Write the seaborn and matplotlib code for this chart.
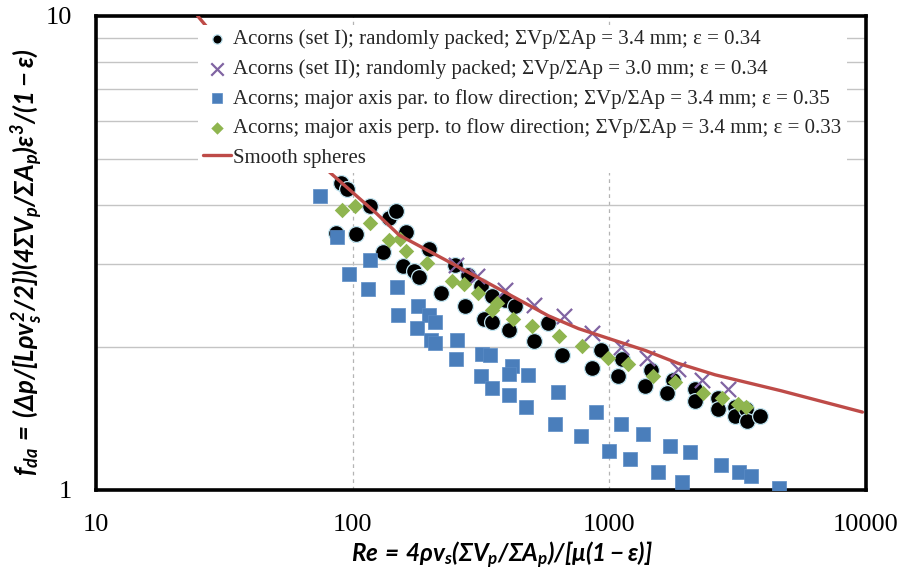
import matplotlib
matplotlib.use("Agg")
import matplotlib.pyplot as plt
import seaborn as sns
from matplotlib.ticker import FixedLocator, FixedFormatter, NullLocator, NullFormatter
from matplotlib.collections import PathCollection

# Acorns (set I); randomly packed
re_set1 = [90.0, 94.8, 116.7, 86.1, 103.4, 138.6, 147.9, 161.8, 131.8, 198.2, 157.0,
           173.3, 181.3, 221.8, 250.0, 281.8, 317.6, 273.5, 324.5, 347.6, 349.2, 393.6,
           430.4, 405.5, 507.0, 575.8, 652.6, 858.7, 928.3, 1117, 1077, 1459, 1383, 1775,
           1671, 2163, 2153, 2649, 2649, 3077, 3077, 3413, 3435, 3847]
f_set1 = [4.44, 4.31, 3.97, 3.48, 3.46, 3.74, 3.88, 3.51, 3.18, 3.22, 2.97,
          2.90, 2.81, 2.61, 2.98, 2.84, 2.69, 2.44, 2.30, 2.26, 2.56, 2.52,
          2.44, 2.18, 2.06, 2.25, 1.93, 1.81, 1.97, 1.89, 1.74, 1.79, 1.66, 1.71,
          1.60, 1.63, 1.54, 1.56, 1.48, 1.50, 1.43, 1.48, 1.40, 1.43]

# Acorns (set II); randomly packed
re_set2 = [251.8, 305.5, 390.8, 507.0, 668.6, 853.0, 1109, 1400, 1854, 2296, 2911]
f_set2 = [2.98, 2.83, 2.64, 2.46, 2.33, 2.14, 2.00, 1.90, 1.80, 1.71, 1.63]

# Acorns; major axis parallel to flow direction
re_par = [74.6, 86.5, 96.4, 116.9, 115.1, 149.2, 150.6, 180.4, 198.2, 209.0, 178.6,
          201.4, 209.0, 255.4, 253.6, 319.4, 344.1, 317.6, 349.2, 417.6, 407.8, 480.9,
          405.5, 471.4, 629.5, 615.2, 774.4, 883.4, 1109, 997, 1202, 1355, 1549, 1722,
          2056, 1927, 2729, 3189, 3550, 4564]
f_par = [4.18, 3.41, 2.86, 3.05, 2.66, 2.68, 2.34, 2.44, 2.34, 2.26, 2.20,
         2.07, 2.04, 2.07, 1.89, 1.94, 1.93, 1.74, 1.64, 1.83, 1.76, 1.75,
         1.59, 1.50, 1.61, 1.38, 1.30, 1.46, 1.38, 1.21, 1.16, 1.31, 1.09, 1.24,
         1.20, 1.04, 1.13, 1.09, 1.07, 1.01]

# Acorns; major axis perpendicular to flow direction
re_perp = [91.2, 102.3, 116.7, 138.6, 152.4, 160.9, 194.9, 244.2, 271.0, 308.3, 348.5,
           364.1, 419.8, 499.0, 633.9, 783.4, 990.6, 1178, 1483, 1799, 2317, 2748,
           3170, 3413]
f_perp = [3.90, 3.97, 3.65, 3.37, 3.38, 3.20, 3.01, 2.76, 2.72, 2.60, 2.40,
          2.48, 2.30, 2.22, 2.11, 2.01, 1.90, 1.84, 1.74, 1.69, 1.60, 1.56,
          1.52, 1.50]

# Smooth spheres reference curve
re_sph = [24.9, 79.6, 123.3, 151.7, 237.1, 579.6, 758.6, 1380, 1854, 2582, 4656, 9683]
f_sph = [10.0, 4.73, 3.84, 3.45, 3.03, 2.33, 2.19, 1.97, 1.85, 1.75, 1.62, 1.46]

labels = [
    "Acorns (set I); randomly packed; ΣVp/ΣAp = 3.4 mm; ε = 0.34",
    "Acorns (set II); randomly packed; ΣVp/ΣAp = 3.0 mm; ε = 0.34",
    "Acorns; major axis par. to flow direction; ΣVp/ΣAp = 3.4 mm; ε = 0.35",
    "Acorns; major axis perp. to flow direction; ΣVp/ΣAp = 3.4 mm; ε = 0.33",
    "Smooth spheres",
]
x_ticks = [10, 100, 1000, 10000]
x_ticklabels = ["10", "100", "1000", "10000"]
y_ticks = [1, 10]
y_ticklabels = ["1", "10"]
y_minor = [2, 3, 4, 5, 6, 7, 8, 9]

sns.set_theme(style="white")
plt.rcParams.update({
    "font.family": ["Liberation Serif", "DejaVu Serif"],
    "mathtext.fontset": "custom",
    "mathtext.rm": "Lato:italic:bold",
    "mathtext.it": "Lato:italic:bold",
    "mathtext.bf": "Lato:italic:bold",
    "mathtext.sf": "Lato:italic:bold",
})

fig = plt.figure(figsize=(9.03, 5.79), dpi=100)
ax = fig.add_axes([96 / 903, 89 / 579, 770 / 903, 474 / 579])

sns.scatterplot(x=re_set1, y=f_set1, marker="o", s=130, color="black",
                edgecolor="#bfe3ef", linewidth=0.9, label=labels[0], ax=ax, zorder=3)
sns.scatterplot(x=re_set2, y=f_set2, marker="x", s=120, color="#8064A2",
                linewidth=1.6, label=labels[1], ax=ax, zorder=4)
sns.scatterplot(x=re_par, y=f_par, marker="s", s=88, color="#4A7EBB",
                edgecolor="#5b8cc6", linewidth=0.5, label=labels[2], ax=ax, zorder=4)
sns.scatterplot(x=re_perp, y=f_perp, marker="D", s=62, color="#8FB54F",
                linewidth=0, label=labels[3], ax=ax, zorder=5)
sns.lineplot(x=re_sph, y=f_sph, color="#BE4B48", linewidth=2.4,
             label=labels[4], ax=ax, zorder=6)

ax.set_xscale("log")
ax.set_yscale("log")
ax.set_xlim(10, 10000)
ax.set_ylim(1, 10)

ax.xaxis.set_major_locator(FixedLocator(x_ticks))
ax.xaxis.set_major_formatter(FixedFormatter(x_ticklabels))
ax.xaxis.set_minor_locator(NullLocator())
ax.yaxis.set_major_locator(FixedLocator(y_ticks))
ax.yaxis.set_major_formatter(FixedFormatter(y_ticklabels))
ax.yaxis.set_minor_locator(FixedLocator(y_minor))
ax.yaxis.set_minor_formatter(NullFormatter())

ax.set_axisbelow(True)
ax.grid(False)
ax.grid(which="minor", axis="y", color="#c4c4c4", linewidth=1.0, linestyle="-")
ax.grid(which="major", axis="x", color="#b4b4b4", linewidth=0.9, linestyle=(0, (3, 3)))

ax.tick_params(axis="both", which="both", length=0, labelsize=19, colors="black")
ax.tick_params(axis="y", pad=17)
ax.tick_params(axis="x", pad=17)
for sp in ax.spines.values():
    sp.set_visible(True)
    sp.set_color("black")
    sp.set_linewidth(2.6)

ax.set_xlabel(r"$Re\,=\,4\rho v_s(\Sigma V_p/\Sigma A_p)/[\mu(1-\varepsilon)]$",
              fontsize=17.5, color="black")
ax.set_ylabel(r"$f_{da}\,=\,(\Delta p/[L\rho v_s^{2}/2])(4\Sigma V_p/\Sigma A_p)\varepsilon^{3}/(1-\varepsilon)$",
              fontsize=18.5, color="black")
ax.xaxis.set_label_coords(0.527, -0.105)
ax.yaxis.set_label_coords(-0.066, 0.48)

leg = ax.legend(loc="upper right", bbox_to_anchor=(0.975, 0.982), frameon=True,
                facecolor="white", edgecolor="none", framealpha=1, fancybox=False,
                fontsize=15, handlelength=1.35, handletextpad=0.1,
                labelspacing=0.47, borderpad=0.25, borderaxespad=0)
leg.set_zorder(10)
handle_sizes = [45, 80, 60, 40]
for h, sz in zip(leg.legend_handles, handle_sizes):
    if isinstance(h, PathCollection):
        h.set_sizes([sz])

fig.savefig("out.png", dpi=100)
